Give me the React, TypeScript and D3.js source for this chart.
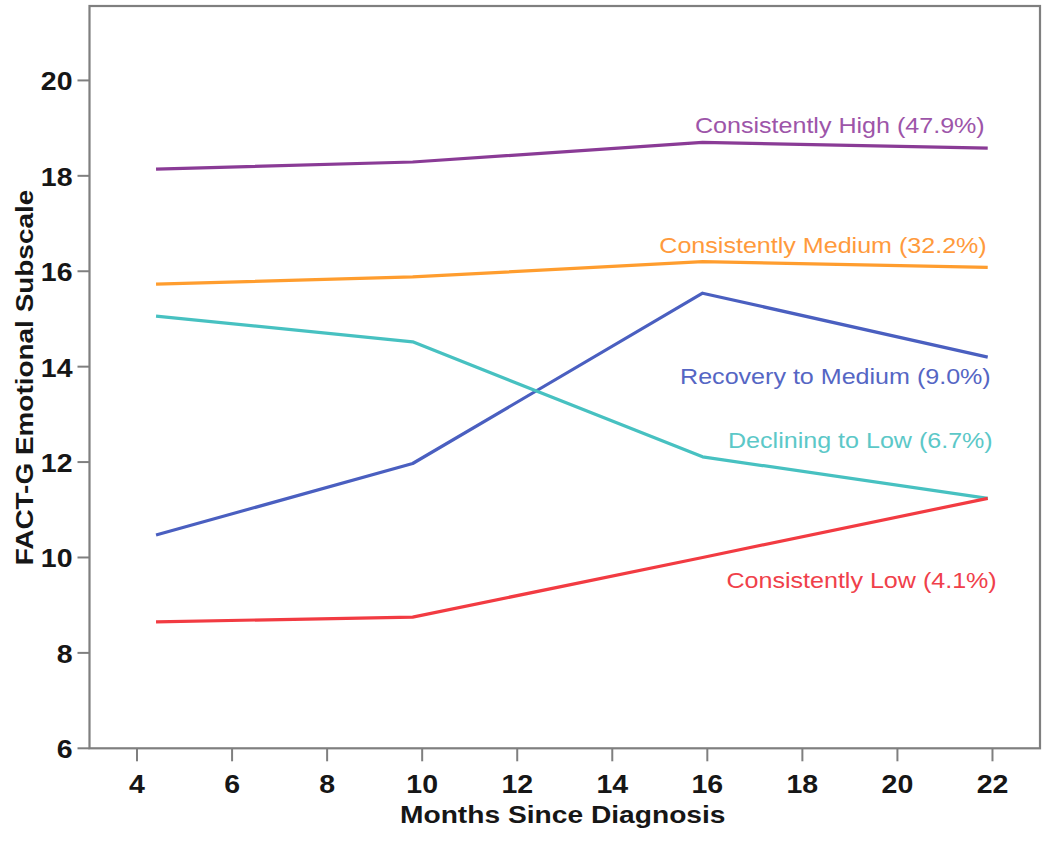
import React from "react";
import * as d3 from "d3";

const months = [4.4, 9.8, 15.9, 21.9];
const seriesNames = [
  "Consistently High (47.9%)",
  "Consistently Medium (32.2%)",
  "Recovery to Medium (9.0%)",
  "Declining to Low (6.7%)",
  "Consistently Low (4.1%)",
];
const highValues = [18.14, 18.29, 18.70, 18.58];
const mediumValues = [15.73, 15.88, 16.20, 16.08];
const recoveryValues = [10.47, 11.97, 15.54, 14.20];
const decliningValues = [15.06, 14.52, 12.11, 11.24];
const lowValues = [8.65, 8.75, 10.0, 11.24];
const xTicks = [4, 6, 8, 10, 12, 14, 16, 18, 20, 22];
const yTicks = [6, 8, 10, 12, 14, 16, 18, 20];
const xTitle = "Months Since Diagnosis";
const yTitle = "FACT-G Emotional Subscale";

const lineColors = ["#8a3b96", "#ff9d2e", "#4a5fc0", "#47c1c1", "#f23b42"];
const labelColors = ["#9d55a9", "#ff9a3c", "#5566c4", "#5cc8c8", "#f0404a"];
// label baseline in data units, and right-edge pixel offset
const labelY = [18.9, 16.38, 13.64, 12.3, 9.35];
const labelDx = [-3, -1, 3, 5, 9];

const allSeries = [highValues, mediumValues, recoveryValues, decliningValues, lowValues];

const W = 1050;
const H = 842;

export default function App() {
  const x = d3.scaleLinear().domain([3, 23]).range([89.5, 1040]);
  const y = d3.scaleLinear().domain([6, 21.56]).range([748.3, 6]);
  const line = d3
    .line<number>()
    .x((_, i) => x(months[i]))
    .y((d) => y(d));

  const axisColor = "#7f7f7f";
  const font = "'Liberation Sans', Arial, sans-serif";
  const sx = 1.14;

  return (
    <svg
      width={W}
      height={H}
      style={{ position: "absolute", left: 0, top: 0, background: "#fff" }}
      fontFamily={font}
    >
      <rect x={0} y={0} width={W} height={H} fill="#fff" />
      {/* frame */}
      <rect
        x={x(3)}
        y={y(21.56)}
        width={x(23) - x(3)}
        height={y(6) - y(21.56)}
        fill="none"
        stroke={axisColor}
        strokeWidth={2.2}
      />
      {/* y ticks */}
      {yTicks.map((t) => (
        <g key={"y" + t}>
          <line x1={x(3) - 12} x2={x(3)} y1={y(t)} y2={y(t)} stroke={axisColor} strokeWidth={2} />
          <text
            transform={`translate(${x(3) - 17},${y(t) + 10}) scale(${sx},1)`}
            textAnchor="end"
            fontSize={25}
            fontWeight="bold"
            fill="#161616"
          >
            {t}
          </text>
        </g>
      ))}
      {/* x ticks */}
      {xTicks.map((t) => (
        <g key={"x" + t}>
          <line x1={x(t)} x2={x(t)} y1={y(6)} y2={y(6) + 13} stroke={axisColor} strokeWidth={2} />
          <text
            transform={`translate(${x(t)},${793}) scale(${sx},1)`}
            textAnchor="middle"
            fontSize={25}
            fontWeight="bold"
            fill="#161616"
          >
            {t}
          </text>
        </g>
      ))}
      {/* axis titles */}
      <text
        transform={`translate(${(x(3) + x(23)) / 2 - 2},${823}) scale(1.15,1)`}
        textAnchor="middle"
        fontSize={24.5}
        fontWeight="bold"
        fill="#161616"
      >
        {xTitle}
      </text>
      <text
        transform={`translate(33,${(188 + 567) / 2}) rotate(-90) scale(1.14,1)`}
        textAnchor="middle"
        fontSize={24.5}
        fontWeight="bold"
        fill="#161616"
      >
        {yTitle}
      </text>
      {/* lines */}
      {allSeries.map((s, i) => (
        <path
          key={"l" + i}
          d={line(s) || ""}
          fill="none"
          stroke={lineColors[i]}
          strokeWidth={3.2}
          strokeLinejoin="round"
        />
      ))}
      {/* labels */}
      {seriesNames.map((n, i) => (
        <text
          key={"t" + i}
          transform={`translate(${x(months[3]) + labelDx[i]},${y(labelY[i])}) scale(${sx},1)`}
          textAnchor="end"
          fontSize={22}
          fill={labelColors[i]}
        >
          {n}
        </text>
      ))}
    </svg>
  );
}
